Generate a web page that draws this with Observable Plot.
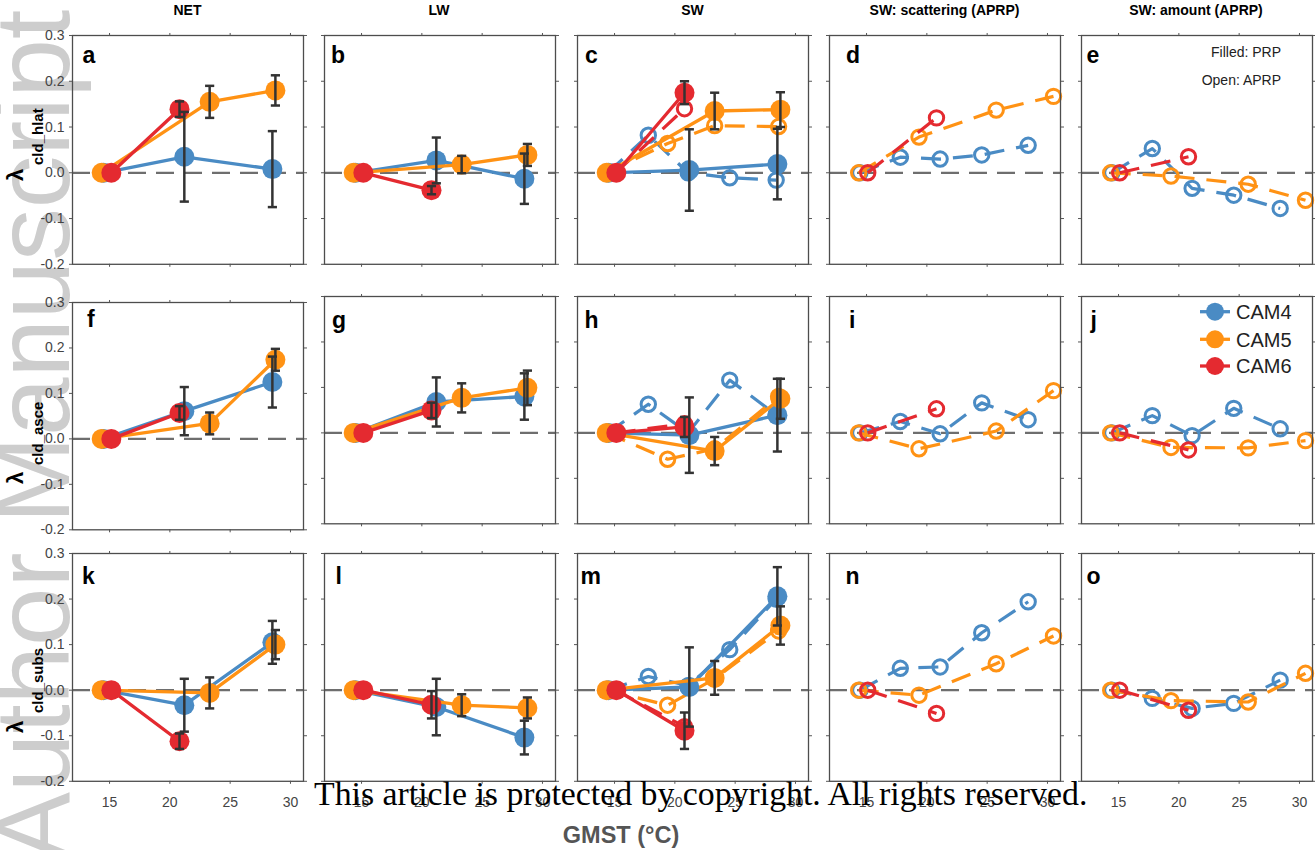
<!DOCTYPE html>
<html>
<head>
<meta charset="utf-8">
<script src="https://cdn.jsdelivr.net/npm/d3@7"></script>
<script src="https://cdn.jsdelivr.net/npm/@observablehq/plot@0.6"></script>
<style>
  html, body { margin: 0; padding: 0; background: #fff; }
  #root { position: relative; width: 1315px; height: 850px; overflow: hidden;
          font-family: "Liberation Sans", Arial, Helvetica, sans-serif; }
  #root svg { position: absolute; }
</style>
</head>
<body>
<div id="root"></div>
<script>
// ---------------- data ----------------
const models = ["CAM4", "CAM5", "CAM6"];
const colors = ["#4a8bc4", "#ff9214", "#e42a30"];
const xTicks = [15, 20, 25, 30];
const yTicks = [-0.2, -0.1, 0, 0.1, 0.2, 0.3];
const columnTitles = ["NET", "LW", "SW", "SW: scattering (APRP)", "SW: amount (APRP)"];
const rowSubscripts = ["cld_hlat", "cld_asce", "cld_subs"];
const panelLetters = ["a","b","c","d","e","f","g","h","i","j","k","l","m","n","o"];

// GMST (°C) of each experiment
const gmstPRP_CAM4 = [14.5, 21.2, 28.5];
const gmstPRP_CAM5 = [14.35, 23.3, 28.75];
const gmstPRP_CAM6 = [15.15, 20.8];
const gmstAPRP_CAM4 = [14.45, 17.8, 21.1, 24.55, 28.4];
const gmstAPRP_CAM5 = [14.35, 19.35, 25.75, 30.5];
const gmstAPRPsw_CAM5 = [14.35, 19.4, 23.3, 28.6];
const gmstAPRP_CAM6 = [15.1, 20.8];

// PRP values [CAM4, CAM5, CAM6] and spread (half-width of error bar)
const a_prp = [[0, 0.035, 0.008], [0, 0.155, 0.18], [0, 0.139]];
const a_err = [[0, 0.098, 0.083], [0, 0.035, 0.033], [0, 0.017]];
const b_prp = [[0, 0.027, -0.013], [0, 0.018, 0.039], [0, -0.038]];
const b_err = [[0, 0.05, 0.055], [0, 0.019, 0.024], [0, 0.009]];
const c_prp = [[0, 0.006, 0.019], [0, 0.135, 0.138], [0, 0.175]];
const c_err = [[0, 0.089, 0.077], [0, 0.04, 0.038], [0, 0.025]];
const f_prp = [[0, 0.061, 0.125], [0, 0.034, 0.174], [0, 0.057]];
const f_err = [[0, 0.053, 0.056], [0, 0.024, 0.024], [0, 0.015]];
const g_prp = [[0, 0.068, 0.08], [0, 0.077, 0.099], [0, 0.0495]];
const g_err = [[0, 0.054, 0.051], [0, 0.032, 0.038], [0, 0.017]];
const h_prp = [[0, -0.005, 0.039], [0, -0.04, 0.075], [0, 0.013]];
const h_err = [[0, 0.083, 0.08], [0, 0.031, 0.044], [0, 0.022]];
const k_prp = [[0, -0.033, 0.105], [0, -0.006, 0.1], [0, -0.112]];
const k_err = [[0, 0.058, 0.047], [0, 0.034, 0.032], [0, 0.017]];
const l_prp = [[0, -0.037, -0.104], [0, -0.033, -0.039], [0, -0.032]];
const l_err = [[0, 0.062, 0.037], [0, 0.024, 0.023], [0, 0.03]];
const m_prp = [[0, 0.007, 0.206], [0, 0.027, 0.142], [0, -0.089]];
const m_err = [[0, 0.087, 0.064], [0, 0.037, 0.042], [0, 0.04]];

// APRP values [CAM4, CAM5, CAM6] (open markers)
const c_aprp = [[0, 0.082, 0.0, -0.011, -0.016], [0, 0.064, 0.103, 0.101], [0, 0.14]];
const d_aprp = [[0, 0.034, 0.03, 0.039, 0.06], [0, 0.078, 0.137, 0.167], [0, 0.12]];
const e_aprp = [[0, 0.053, -0.034, -0.049, -0.078], [0, -0.007, -0.025, -0.06], [0, 0.035]];
const h_aprp = [[0, 0.063, 0.0, 0.116, 0.04], [0, -0.058, -0.035, 0.08], [0, 0.02]];
const i_aprp = [[0, 0.025, -0.002, 0.066, 0.029], [0, -0.035, 0.004, 0.093], [0, 0.053]];
const j_aprp = [[0, 0.038, -0.006, 0.054, 0.009], [0, -0.032, -0.033, -0.017], [0, -0.0375]];
const m_aprp = [[0, 0.03, 0.01, 0.089, 0.2], [0, -0.033, 0.025, 0.13], [0, -0.08]];
const n_aprp = [[0, 0.048, 0.051, 0.126, 0.194], [0, -0.011, 0.058, 0.119], [0, -0.051]];
const o_aprp = [[0, -0.018, -0.04, -0.029, 0.022], [0, -0.023, -0.026, 0.037], [0, -0.044]];

const legendNotes = ["Filled: PRP", "Open: APRP"];

// ---------------- panel definitions ----------------
const panels = [
  {prp: a_prp, err: a_err}, {prp: b_prp, err: b_err}, {prp: c_prp, err: c_err, aprp: c_aprp, sw: true},
  {aprp: d_aprp}, {aprp: e_aprp, notes: true},
  {prp: f_prp, err: f_err}, {prp: g_prp, err: g_err}, {prp: h_prp, err: h_err, aprp: h_aprp, sw: true},
  {aprp: i_aprp}, {aprp: j_aprp},
  {prp: k_prp, err: k_err}, {prp: l_prp, err: l_err}, {prp: m_prp, err: m_err, aprp: m_aprp, sw: true},
  {aprp: n_aprp}, {aprp: o_aprp}
];

// ---------------- layout ----------------
const colLeft = [72, 323.5, 577, 829, 1080.5];
const panelW = 231;
const rowTop = [[34.7, 34.7, 34.7, 34.7, 34.7], [302, 296, 296, 296, 296], [553.2, 553.2, 553.2, 553.2, 553.2]];
const rowH = [228.8, 227.3, 227.8];
const letterDx = [10, 6.5, 7.5, 16.5, 5, 14.5, 7.5, 7, 19.5, 9, 9.5, 11, 3, 16, 5];
const letterDy = [[27.3, 27.3, 27.3, 27.3, 27.3], [25, 32, 32, 32, 32], [31, 31, 31, 31, 31]];
const FONT = '"Liberation Sans", Arial, Helvetica, sans-serif';

const root = document.getElementById("root");

// watermark (behind everything)
const wm = d3.select(root).append("svg").attr("width", 1315).attr("height", 850)
  .style("left", "0px").style("top", "0px");
wm.append("text")
  .attr("transform", "translate(69,862) rotate(-90)")
  .attr("font-family", FONT).attr("font-size", 105).attr("fill", "#cdcdcd")
  .text("Author Manuscript");

const prpX = [gmstPRP_CAM4, gmstPRP_CAM5, gmstPRP_CAM6];
const aprpX = [gmstAPRP_CAM4, gmstAPRP_CAM5, gmstAPRP_CAM6];

panels.forEach((p, idx) => {
  const row = Math.floor(idx / 5), col = idx % 5;
  const ml = col === 0 ? 60 : 8, mr = 8, mt = 8, mb = row === 2 ? 34 : 8;
  const H = rowH[row];
  const marks = [
    Plot.ruleY([0], {stroke: "#6e6e6e", strokeWidth: 2.2, strokeDasharray: "18,10"})
  ];
  if (p.aprp) {
    p.aprp.forEach((vals, m) => {
      const xs = (m === 1 && p.sw) ? gmstAPRPsw_CAM5 : aprpX[m];
      const data = vals.map((v, i) => ({x: xs[i], y: v}));
      marks.push(Plot.line(data, {x: "x", y: "y", stroke: colors[m], strokeWidth: 3.2,
        strokeDasharray: "20,12", strokeLinecap: "butt"}));
      marks.push(Plot.dot(data, {x: "x", y: "y", r: 7.2, stroke: colors[m], strokeWidth: 3, fill: "none"}));
    });
  }
  const errData = [];
  if (p.prp) {
    p.prp.forEach((vals, m) => {
      const data = vals.map((v, i) => ({x: prpX[m][i], y: v, e: p.err[m][i]}));
      marks.push(Plot.line(data, {x: "x", y: "y", stroke: colors[m], strokeWidth: 3.3}));
      marks.push(Plot.dot(data, {x: "x", y: "y", r: 10, fill: colors[m], stroke: "none"}));
      data.filter(d => d.e > 0).forEach(d => errData.push(d));
    });
    marks.push(Plot.ruleX(errData, {x: "x", y1: d => d.y - d.e, y2: d => d.y + d.e, stroke: "#333", strokeWidth: 2.5}));
    marks.push(Plot.link(errData, {x1: d => d.x - 0.38, x2: d => d.x + 0.38, y1: d => d.y + d.e, y2: d => d.y + d.e, stroke: "#333", strokeWidth: 2.5}));
    marks.push(Plot.link(errData, {x1: d => d.x - 0.38, x2: d => d.x + 0.38, y1: d => d.y - d.e, y2: d => d.y - d.e, stroke: "#333", strokeWidth: 2.5}));
  }
  marks.push(Plot.frame({stroke: "#4d4d4d", strokeWidth: 1.3}));
  marks.push(Plot.axisY({ticks: yTicks, anchor: "left", tickSize: 3, tickPadding: 5, stroke: "#555",
    fill: col === 0 ? "#444" : "none", tickFormat: d => d.toFixed(1), label: null, fontSize: 14}));
  marks.push(Plot.axisY({ticks: yTicks, anchor: "right", tickSize: 3, stroke: "#555", fill: "none", label: null}));
  marks.push(Plot.axisX({ticks: xTicks, anchor: "top", tickSize: 3, stroke: "#555", fill: "none", label: null}));
  marks.push(Plot.axisX({ticks: xTicks, anchor: "bottom", tickSize: 3, tickPadding: 13, stroke: "#555",
    fill: row === 2 ? "#444" : "none", tickFormat: d => String(d), label: null, fontSize: 14}));
  marks.push(Plot.text([panelLetters[idx]], {frameAnchor: "top-left", text: d => d, dx: letterDx[idx],
    dy: letterDy[row][col], fontSize: 23, fontWeight: "bold", fill: "#000", textAnchor: "start", lineAnchor: "bottom"}));
  if (p.notes) {
    marks.push(Plot.text([legendNotes[0]], {frameAnchor: "top-right", text: d => d, dx: -31.5, dy: 17,
      textAnchor: "end", lineAnchor: "middle", fontSize: 14, fill: "#222"}));
    marks.push(Plot.text([legendNotes[1]], {frameAnchor: "top-right", text: d => d, dx: -31.5, dy: 45.3,
      textAnchor: "end", lineAnchor: "middle", fontSize: 14, fill: "#222"}));
  }
  const svg = Plot.plot({
    width: panelW + ml + mr, height: H + mt + mb,
    marginLeft: ml, marginRight: mr, marginTop: mt, marginBottom: mb,
    x: {domain: [11.93, 31.08], axis: null},
    y: {domain: [-0.2, 0.3], axis: null},
    style: {fontFamily: FONT, fontSize: "14px", color: "#444", background: "none", overflow: "visible"},
    marks
  });
  svg.style.position = "absolute";
  svg.style.left = (colLeft[col] - ml) + "px";
  svg.style.top = (rowTop[row][col] - mt) + "px";
  root.appendChild(svg);
});

// overlay: titles, axis labels, legend, notices
const ov = d3.select(root).append("svg").attr("width", 1315).attr("height", 850)
  .style("left", "0px").style("top", "0px").style("pointer-events", "none");

columnTitles.forEach((t, c) => {
  ov.append("text").attr("x", colLeft[c] + panelW / 2).attr("y", 15)
    .attr("text-anchor", "middle").attr("font-family", FONT).attr("font-size", 14)
    .attr("font-weight", "bold").attr("fill", "#000").text(t);
});

const lambdaY = [181, 484, 733];
const subY = [165, 465, 713];
rowSubscripts.forEach((s, r) => {
  ov.append("text").attr("transform", `translate(23,${lambdaY[r]}) rotate(-90)`)
    .attr("font-family", FONT).attr("font-size", 22).attr("font-weight", "bold").attr("fill", "#000").text("λ");
  ov.append("text").attr("transform", `translate(43,${subY[r]}) rotate(-90)`)
    .attr("font-family", FONT).attr("font-size", 15).attr("font-weight", "bold").attr("fill", "#000").text(s);
});

// legend (panel j)
const legY = [311.7, 339.3, 366];
models.forEach((m, i) => {
  ov.append("line").attr("x1", 1200).attr("x2", 1230).attr("y1", legY[i]).attr("y2", legY[i])
    .attr("stroke", colors[i]).attr("stroke-width", 3.3);
  ov.append("circle").attr("cx", 1215).attr("cy", legY[i]).attr("r", 9).attr("fill", colors[i]);
  ov.append("text").attr("x", 1236).attr("y", legY[i]).attr("dy", "0.36em")
    .attr("font-family", FONT).attr("font-size", 20).attr("fill", "#222").text(m);
});

ov.append("text").attr("x", 314).attr("y", 805)
  .attr("font-family", '"Liberation Serif", "Times New Roman", serif').attr("font-size", 33.8)
  .attr("fill", "#000").text("This article is protected by copyright. All rights reserved.");

ov.append("text").attr("x", 621).attr("y", 843).attr("text-anchor", "middle")
  .attr("font-family", FONT).attr("font-size", 23.5).attr("font-weight", "bold").attr("fill", "#555")
  .text("GMST (°C)");
</script>
</body>
</html>
